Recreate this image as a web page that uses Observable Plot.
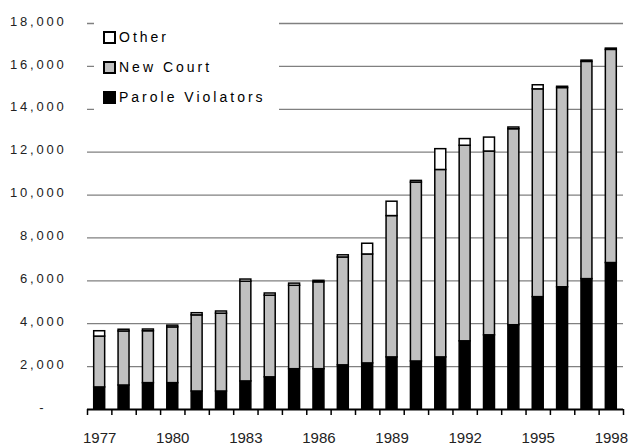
<!DOCTYPE html>
<html>
<head>
<meta charset="utf-8">
<script src="https://cdn.jsdelivr.net/npm/d3@7"></script>
<script src="https://cdn.jsdelivr.net/npm/@observablehq/plot@0.6"></script>
<style>
  html, body { margin: 0; padding: 0; background: #fff; }
  #wrap { position: relative; width: 629px; height: 445px; font-family: "Liberation Sans", Arial, sans-serif; }
  #wrap svg { display: block; }
  g[aria-label="y-axis tick label"] text { letter-spacing: 2.8px; }
  #legend { position: absolute; left: 94px; top: 18px; width: 185px; height: 93px; background: #fff; }
  .item { position: absolute; left: 9px; height: 14px; font-size: 14px; letter-spacing: 3px; color: #000; white-space: nowrap; }
  .sw { position: absolute; left: 0; top: 0; width: 13px; height: 13px; box-sizing: border-box; border: 2px solid #000; }
  .lbl { position: absolute; left: 16px; top: -1px; line-height: 14px; }
</style>
</head>
<body>
<div id="wrap"><div id="legend"></div></div>
<script>
const years = [1977,1978,1979,1980,1981,1982,1983,1984,1985,1986,1987,1988,1989,1990,1991,1992,1993,1994,1995,1996,1997,1998];
const paroleViolators = [1030,1120,1230,1230,840,840,1310,1500,1880,1880,2060,2150,2430,2240,2430,3180,3460,3930,5240,5700,6080,6830];
const newCourt = [2370,2520,2420,2600,3550,3630,4650,3810,3890,4050,5030,5080,6590,8340,8740,9120,8570,9140,9690,9290,10130,9940];
const other = [250,80,80,80,100,100,100,100,100,70,100,500,670,80,970,310,650,80,190,60,60,60];
const seriesNames = ["Parole Violators", "New Court", "Other"];
const seriesFills = ["#000000", "#c0c0c0", "#ffffff"];
const xTickLabels = [1977,1980,1983,1986,1989,1992,1995,1998];
const yTicks = [0,2000,4000,6000,8000,10000,12000,14000,16000,18000];

const seriesValues = [paroleViolators, newCourt, other];
const data = [];
seriesNames.forEach((s, i) => years.forEach((yr, j) => data.push({year: yr, series: s, value: seriesValues[i][j]})));
const boundaries = [years[0] - 0.5, ...years.map(y => y + 0.5)];

const plot = Plot.plot({
  width: 629,
  height: 445,
  marginLeft: 87,
  marginRight: 6,
  marginTop: 23,
  marginBottom: 36,
  style: {fontFamily: '"Liberation Sans", Arial, sans-serif', color: "#222", background: "#fff"},
  x: {type: "linear", domain: [years[0] - 0.5, years[years.length - 1] + 0.5]},
  y: {domain: [0, 18000]},
  color: {domain: seriesNames, range: seriesFills},
  marks: [
    Plot.gridY(yTicks.filter(d => d > 0), {stroke: "#808080", strokeOpacity: 1, strokeWidth: 1.3}),
    Plot.rectY(data, {
      x1: d => d.year - 0.5, x2: d => d.year + 0.5, y: "value", z: "series",
      fill: "series", stroke: "#000", strokeWidth: 1.5,
      insetLeft: 6.7, insetRight: 6.7, order: seriesNames
    }),
    Plot.ruleY([0], {stroke: "#000", strokeWidth: 1.8}),
    Plot.axisX(boundaries, {tickSize: 6, tickFormat: () => "", stroke: "#000", strokeWidth: 1.5, label: null}),
    Plot.axisX(xTickLabels, {tickSize: 0, tickPadding: 23, fontSize: 15, tickFormat: d => String(d), fill: "#222", label: null}),
    Plot.axisY(yTicks, {tickSize: 0, tickPadding: 21, fontSize: 13, dy: -2, fill: "#222", label: null,
      tickFormat: d => d === 0 ? "-\u2007\u2007" : d3.format(",")(d)})
  ]
});
document.getElementById("wrap").prepend(plot);

const legend = document.getElementById("legend");
const legendOrder = ["Other", "New Court", "Parole Violators"];
legendOrder.forEach((name, i) => {
  const it = document.createElement("div");
  it.className = "item";
  it.style.top = (13 + i * 30) + "px";
  const sw = document.createElement("div");
  sw.className = "sw";
  sw.style.background = seriesFills[seriesNames.indexOf(name)];
  const lb = document.createElement("span");
  lb.className = "lbl";
  lb.textContent = name;
  it.appendChild(sw); it.appendChild(lb);
  legend.appendChild(it);
});
</script>
</body>
</html>
